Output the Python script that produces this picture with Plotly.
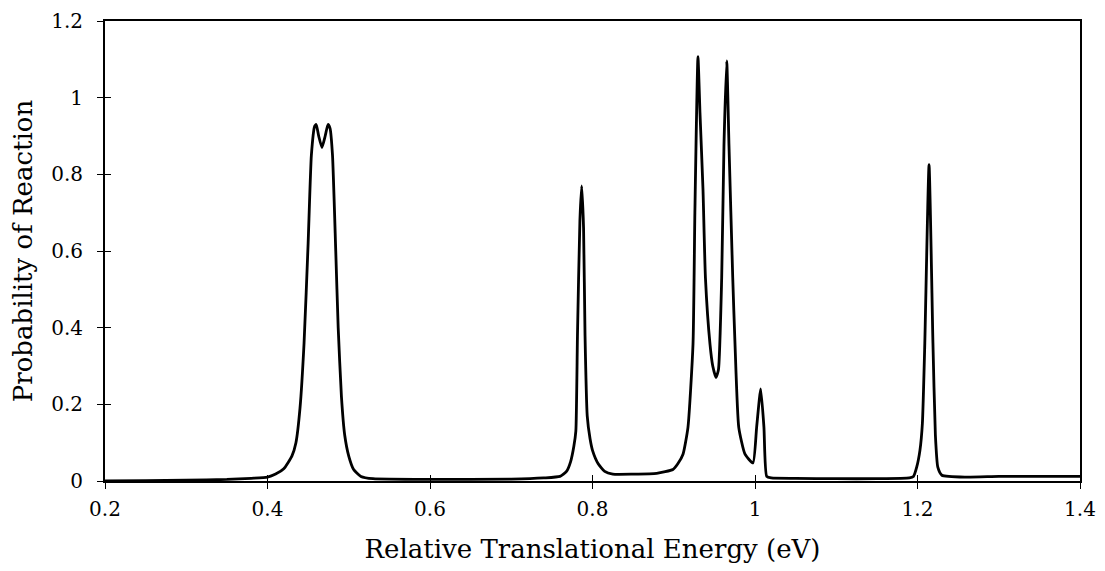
import plotly.graph_objects as go

energy = [
    0.20, 0.25, 0.30, 0.35, 0.38, 0.40, 0.41, 0.42, 0.43, 0.435, 0.440, 0.445,
    0.450, 0.454, 0.458, 0.460, 0.463, 0.467, 0.471, 0.4745, 0.477, 0.480,
    0.484, 0.487, 0.491, 0.495, 0.500, 0.506, 0.515, 0.53, 0.60, 0.70, 0.74,
    0.760, 0.768, 0.773, 0.777, 0.7795, 0.7815, 0.7845, 0.7867, 0.789, 0.7908,
    0.7935, 0.797, 0.800, 0.807, 0.815, 0.825, 0.85, 0.879, 0.899, 0.905, 0.9114,
    0.9175, 0.9237, 0.926, 0.9298, 0.9323, 0.936, 0.939, 0.9446, 0.948, 0.952,
    0.955, 0.959, 0.9618, 0.9652, 0.968, 0.9726, 0.9754, 0.980, 0.9877, 0.9975,
    1.002, 1.007, 1.011, 1.0144, 1.02, 1.05, 1.10, 1.15, 1.19, 1.195, 1.199,
    1.203, 1.206, 1.209, 1.2142, 1.219, 1.222, 1.225, 1.23, 1.26, 1.30, 1.35,
    1.40,
]
probability = [
    0.000, 0.001, 0.002, 0.004, 0.007, 0.010, 0.018, 0.032, 0.065, 0.10, 0.19,
    0.36, 0.62, 0.85, 0.925, 0.930, 0.900, 0.870, 0.900, 0.930, 0.920, 0.850,
    0.600, 0.400, 0.220, 0.120, 0.065, 0.030, 0.012, 0.006, 0.004, 0.005,
    0.008, 0.012, 0.025, 0.050, 0.090, 0.130, 0.380, 0.680, 0.770, 0.660,
    0.380, 0.170, 0.110, 0.080, 0.045, 0.025, 0.018, 0.018, 0.020, 0.030, 0.045,
    0.070, 0.140, 0.357, 0.700, 1.107, 0.960, 0.760, 0.530, 0.357, 0.300,
    0.270, 0.290, 0.530, 0.874, 1.096, 0.874, 0.530, 0.357, 0.140, 0.070,
    0.047, 0.140, 0.240, 0.140, 0.012, 0.008, 0.007, 0.006, 0.006, 0.008,
    0.012, 0.036, 0.080, 0.150, 0.360, 0.825, 0.360, 0.120, 0.036, 0.015,
    0.010, 0.012, 0.012, 0.012,
]

x_ticks = [0.2, 0.4, 0.6, 0.8, 1.0, 1.2, 1.4]
x_tick_labels = ["0.2", "0.4", "0.6", "0.8", "1", "1.2", "1.4"]
y_ticks = [0, 0.2, 0.4, 0.6, 0.8, 1.0, 1.2]
y_tick_labels = ["0", "0.2", "0.4", "0.6", "0.8", "1", "1.2"]

FONT = "DejaVu Serif"

fig = go.Figure()
fig.add_trace(go.Scatter(
    x=energy, y=probability, mode="lines",
    line=dict(color="black", width=2.8, shape="spline", smoothing=0.5),
    showlegend=False, hoverinfo="skip",
))

axis_common = dict(showgrid=False, zeroline=False, showline=True,
                   linecolor="black", linewidth=2, mirror=True,
                   ticks="outside", ticklen=6, tickwidth=1.2, tickcolor="black",
                   automargin=False)

fig.update_layout(
    width=1097, height=563,
    margin=dict(l=97, r=25, t=13, b=90),
    paper_bgcolor="white", plot_bgcolor="white",
    font=dict(family=FONT, color="black", size=20),
    xaxis=dict(range=[0.2, 1.4], tickvals=x_ticks, ticktext=x_tick_labels,
               ticklabelstandoff=3,
               title=dict(text="Relative Translational Energy (eV)",
                          font=dict(size=26, family=FONT), standoff=20),
               **axis_common),
    yaxis=dict(range=[0, 1.2], tickvals=y_ticks, ticktext=y_tick_labels,
               ticklabelstandoff=10,
               title=dict(text="Probability of Reaction",
                          font=dict(size=26, family=FONT), standoff=12),
               **axis_common),
    # overlay axes provide the inside half of the crossing tick marks
    xaxis2=dict(overlaying="x", matches="x", range=[0.2, 1.4], tickvals=x_ticks,
                showticklabels=False, ticks="inside", ticklen=6, tickwidth=1.2,
                tickcolor="black", showgrid=False, zeroline=False, side="bottom"),
    yaxis2=dict(overlaying="y", matches="y", range=[0, 1.2], tickvals=y_ticks,
                showticklabels=False, ticks="inside", ticklen=6, tickwidth=1.2,
                tickcolor="black", showgrid=False, zeroline=False, side="left"),
)
fig.add_trace(go.Scatter(x=[None], y=[None], xaxis="x2", yaxis="y2",
                         showlegend=False, hoverinfo="skip"))

fig.write_html("out.html")
